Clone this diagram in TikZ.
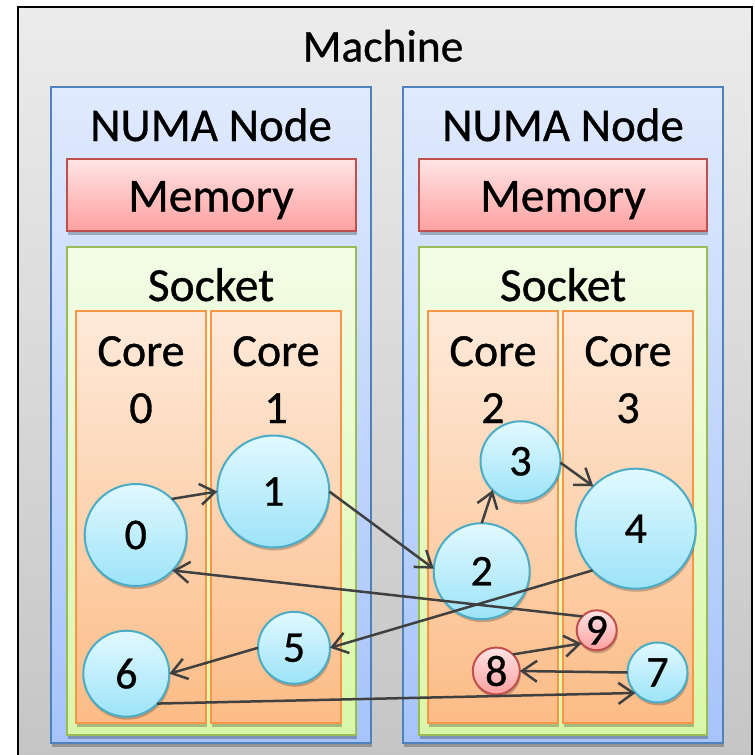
\documentclass[tikz,border=0pt]{standalone}
\usepackage{fontspec}
\setmainfont{Carlito}[RawFeature={embolden=0.7}]
\usetikzlibrary{arrows.meta,shadows}

\definecolor{machTop}{RGB}{236,236,236}
\definecolor{machBot}{RGB}{196,196,196}
\definecolor{numaTop}{RGB}{224,234,254}
\definecolor{numaBot}{RGB}{166,196,250}
\definecolor{numaLine}{RGB}{79,129,189}
\definecolor{memTop}{RGB}{255,228,228}
\definecolor{memBot}{RGB}{255,160,160}
\definecolor{memLine}{RGB}{192,80,77}
\definecolor{sockTop}{RGB}{242,253,230}
\definecolor{sockBot}{RGB}{218,247,168}
\definecolor{sockLine}{RGB}{155,187,89}
\definecolor{coreTop}{RGB}{254,234,218}
\definecolor{coreBot}{RGB}{252,188,134}
\definecolor{coreLine}{RGB}{247,150,70}
\definecolor{taskTop}{RGB}{226,249,255}
\definecolor{taskBot}{RGB}{156,227,248}
\definecolor{taskLine}{RGB}{75,172,198}
\definecolor{arrowGray}{RGB}{64,64,64}

\begin{document}
\begin{tikzpicture}[x=1pt,y=-1pt,
  txt/.style={font=\fontsize{#1}{50}\selectfont, inner sep=0pt, outer sep=0pt, anchor=base},
  txt/.default=45,
  box/.style={draw, line width=2pt, inner sep=0pt, outer sep=0pt, anchor=north west},
  softshadow/.style={drop shadow={shadow xshift=1pt, shadow yshift=-4pt, opacity=0.25, fill=black}},
  machinebox/.style={box, draw=black, top color=machTop, bottom color=machBot},
  numabox/.style={box, draw=numaLine, top color=numaTop, bottom color=numaBot, softshadow},
  membox/.style={box, draw=memLine, top color=memTop, bottom color=memBot, softshadow},
  sockbox/.style={box, draw=sockLine, top color=sockTop, bottom color=sockBot, softshadow},
  corebox/.style={box, draw=coreLine, top color=coreTop, bottom color=coreBot, softshadow},
  task/.style={circle, draw=taskLine, line width=2pt, top color=taskTop, bottom color=taskBot,
    inner sep=0pt, outer sep=0pt, font=\fontsize{44}{50}\selectfont,
    drop shadow={shadow xshift=1pt, shadow yshift=-3pt, opacity=0.22, fill=black}},
  redtask/.style={task, draw=memLine, top color=memTop, bottom color=memBot},
  arr/.style={draw=arrowGray, line width=2.5pt, -{Straight Barb[length=15pt,width=21pt]}}
]
\useasboundingbox (0,0) rectangle (755,755);
\clip (0,0) rectangle (755,755);

% machine
\node[machinebox, minimum width=734pt, minimum height=770pt] (machine) at (18,7) {};
\node[txt=45.5] (machineLbl) at (383,61.5) {Machine};

% NUMA nodes
\node[numabox, minimum width=320pt, minimum height=656pt] (numaL) at (51,87) {};
\node[numabox, minimum width=320pt, minimum height=656pt] (numaR) at (403,87) {};
\node[txt=47] (numaLLbl) at (211,141) {NUMA Node};
\node[txt=47] (numaRLbl) at (563,141) {NUMA Node};

% memories
\node[membox, minimum width=288.5pt, minimum height=72pt] (memL) at (67,159) {};
\node[membox, minimum width=288.5pt, minimum height=72pt] (memR) at (418.5,159) {};
\node[txt=47.5] (memLLbl) at (211,211.5) {Memory};
\node[txt=47.5] (memRLbl) at (563,211.5) {Memory};

% sockets
\node[sockbox, minimum width=288.5pt, minimum height=488pt] (sockL) at (67,247) {};
\node[sockbox, minimum width=288.5pt, minimum height=488pt] (sockR) at (418.5,247) {};
\node[txt=47.5] (sockLLbl) at (211,301) {Socket};
\node[txt=47.5] (sockRLbl) at (563,301) {Socket};

% cores
\node[corebox, minimum width=130pt, minimum height=412pt] (core0) at (76,311) {};
\node[corebox, minimum width=130pt, minimum height=412pt] (core1) at (211,311) {};
\node[corebox, minimum width=130pt, minimum height=412pt] (core2) at (428,311) {};
\node[corebox, minimum width=130pt, minimum height=412pt] (core3) at (563,311) {};
\foreach \cx/\id in {141/0, 276/1, 493/2, 628/3} {
  \node[txt=46] (coreLbl\id) at (\cx,366) {Core};
  \node[txt=46] (coreNum\id) at (\cx,423) {\id};
}

% tasks
\node[task, minimum size=102pt] (t0) at (135.7,535) {0};
\node[task, minimum size=112pt] (t1) at (273.3,491.5) {1};
\node[task, minimum size=96pt] (t2) at (481.7,571.2) {2};
\node[task, minimum size=80pt] (t3) at (520.5,461.3) {3};
\node[task, minimum size=120pt] (t4) at (635.7,528.7) {4};
\node[task, minimum size=72pt] (t5) at (294,647.8) {5};
\node[task, minimum size=86pt] (t6) at (126.3,673.7) {6};
\node[task, minimum size=60pt] (t7) at (657.5,672.5) {7};
\node[redtask, minimum size=47pt] (t8) at (496.3,671) {8};
\node[redtask, minimum size=40pt] (t9) at (596.7,630.3) {9};

% migration path
\draw[arr] (t0.45) -- (t1.180);
\draw[arr] (t1.0) -- (t2.177);
\draw[arr] (t2.90) -- (t3.-134);
\draw[arr] (t3.-2) -- (t4.135);
\draw[arr] (t4.-136) -- (t5.0);
\draw[arr] (t5.180) -- (t6.0);
\draw[arr] (t6.-44) -- (t7.-137);
\draw[arr] (t7.180) -- (t8.0);
\draw[arr] (t8.45) -- (t9.-139);
\draw[arr] (t9.136) -- (t0.-44);
\end{tikzpicture}
\end{document}
